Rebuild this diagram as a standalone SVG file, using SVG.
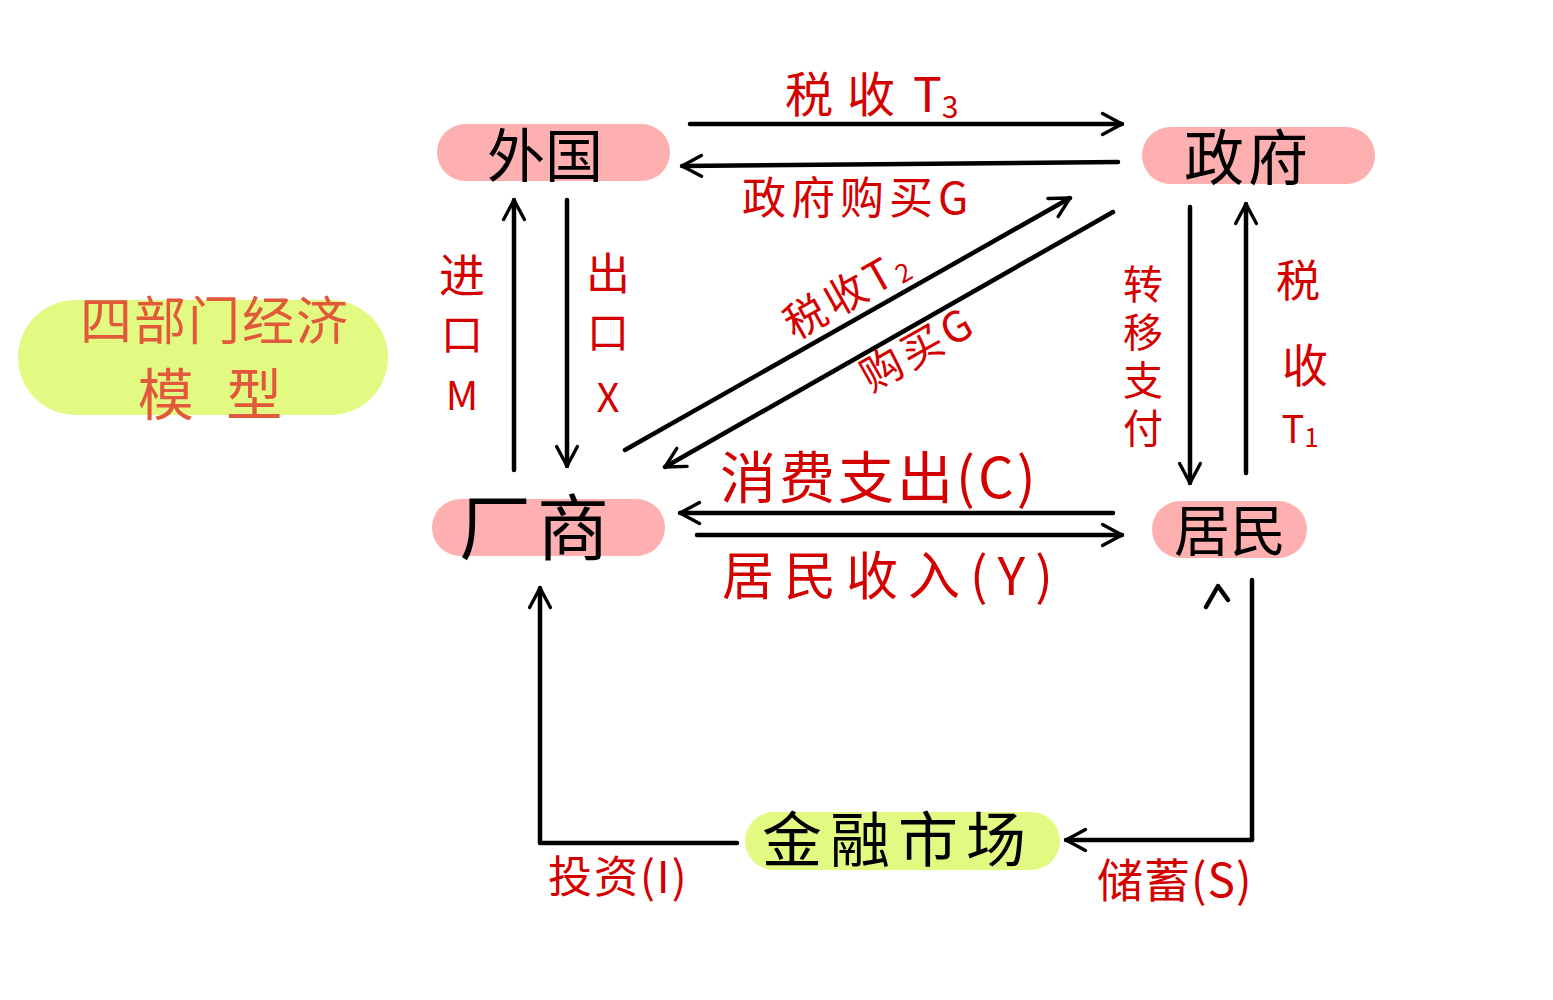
<svg xmlns="http://www.w3.org/2000/svg" width="1553" height="1000" viewBox="0 0 1553 1000">
<defs>
<marker id="arr" viewBox="0 0 20 20" refX="18" refY="10" markerWidth="26" markerHeight="26" markerUnits="userSpaceOnUse" orient="auto">
<path d="M3,2 L18,10 L3,18" fill="none" stroke="#000" stroke-width="2.6" stroke-linecap="round" stroke-linejoin="round"/>
</marker>
<style>
.ln{fill:none;stroke:#000;stroke-width:4.5;stroke-linecap:round;stroke-linejoin:round}
.pink{fill:#FDB0AF}
.lime{fill:#E2FA82}
.nt{font-family:"Noto Sans CJK SC","Noto Sans",sans-serif;fill:#000;text-anchor:middle}
.lb{font-family:"Noto Sans CJK SC","Noto Sans",sans-serif;fill:#D40000}
.lc{font-family:"Noto Sans CJK SC","Noto Sans",sans-serif;fill:#D40000;text-anchor:middle}
.vt{font-family:"Noto Sans CJK SC","Noto Sans",sans-serif;fill:#D40000;writing-mode:vertical-rl}
.tt{font-family:"Noto Sans CJK SC","Noto Sans",sans-serif;fill:#E2583A;text-anchor:middle}
</style>
</defs>
<rect width="1553" height="1000" fill="#fff"/>

<g id="title">
<rect class="lime" x="18" y="300" width="370" height="115" rx="57.5"/>
<text class="tt" font-size="52"><tspan x="215" y="340" letter-spacing="2">四部门经济</tspan><tspan x="215" y="415" font-size="56" letter-spacing="10">模 型</tspan></text>
</g>

<g id="foreign">
<rect class="pink" x="437" y="124" width="233" height="57" rx="28.5"/>
<text class="nt" x="545" y="177" font-size="58">外国</text>
</g>
<g id="government">
<rect class="pink" x="1142" y="127" width="233" height="57" rx="28.5"/>
<text class="nt" x="1248" y="180" font-size="60" letter-spacing="4">政府</text>
</g>
<g id="firms">
<rect class="pink" x="432" y="499" width="233" height="57" rx="28.5"/>
<text class="nt" x="537" y="554" font-size="72" letter-spacing="6">厂商</text>
</g>
<g id="households">
<rect class="pink" x="1152" y="501" width="155" height="57" rx="28.5"/>
<text class="nt" x="1230" y="551" font-size="56">居民</text>
</g>
<g id="financial">
<rect class="lime" x="745" y="812" width="315" height="58" rx="29"/>
<text class="nt" x="898" y="862" font-size="60" letter-spacing="8">金融市场</text>
</g>

<g id="connectors">
<line class="ln" x1="690" y1="124" x2="1122" y2="124" marker-end="url(#arr)"/>
<line class="ln" x1="1118" y1="162" x2="682" y2="166" marker-end="url(#arr)"/>
<line class="ln" x1="567" y1="200" x2="567" y2="466" marker-end="url(#arr)"/>
<line class="ln" x1="514" y1="470" x2="514" y2="200" marker-end="url(#arr)"/>
<line class="ln" x1="625" y1="450" x2="1070" y2="198" marker-end="url(#arr)"/>
<line class="ln" x1="1113" y1="212" x2="665" y2="467" marker-end="url(#arr)"/>
<line class="ln" x1="1190" y1="207" x2="1190" y2="483" marker-end="url(#arr)"/>
<line class="ln" x1="1246" y1="473" x2="1246" y2="204" marker-end="url(#arr)"/>
<line class="ln" x1="1113" y1="513" x2="680" y2="513" marker-end="url(#arr)"/>
<line class="ln" x1="697" y1="535" x2="1122" y2="535" marker-end="url(#arr)"/>
<path class="ln" d="M1252,580 L1252,840 L1066,840" marker-end="url(#arr)"/>
<path class="ln" d="M737,843 L540,843 L540,588" marker-end="url(#arr)"/>
<path class="ln" d="M1206,607 L1218,586 L1228,600" stroke-width="3.5"/>
</g>

<g id="labels">
<text class="lb" x="785" y="112" font-size="48"><tspan letter-spacing="14">税收</tspan><tspan dx="4">T</tspan><tspan font-size="30" dy="6">3</tspan></text>
<text class="lb" x="742" y="214" font-size="44" letter-spacing="5">政府购买G</text>
<text class="lc" x="848" y="308" font-size="42" letter-spacing="4" transform="rotate(-29.5 848 293)">税收T<tspan font-size="26" dy="4">2</tspan></text>
<text class="lc" x="918" y="364" font-size="42" letter-spacing="4" transform="rotate(-29.5 918 349)">购买G</text>
<text class="lc" x="462" y="292" font-size="46">进</text>
<text class="lc" x="462" y="350" font-size="42">口</text>
<text class="lc" x="462" y="410" font-size="40">M</text>
<text class="lc" x="608" y="290" font-size="44">出</text>
<text class="lc" x="608" y="348" font-size="42">口</text>
<text class="lc" x="608" y="412" font-size="40">X</text>
<text class="vt" x="1143" y="264" font-size="40" letter-spacing="8">转移支付</text>
<text class="lc" x="1298" y="297" font-size="44">税</text>
<text class="lc" x="1305" y="382" font-size="46">收</text>
<text class="lc" x="1300" y="443" font-size="38">T<tspan font-size="26" dy="4">1</tspan></text>
<text class="lb" x="720" y="498" font-size="56" letter-spacing="3">消费支出(C)</text>
<text class="lb" x="722" y="595" font-size="52" letter-spacing="10">居民收入(Y)</text>
<text class="lb" x="548" y="893" font-size="44" letter-spacing="2">投资(I)</text>
<text class="lb" x="1097" y="897" font-size="46" letter-spacing="1">储蓄(S)</text>
</g>
</svg>
